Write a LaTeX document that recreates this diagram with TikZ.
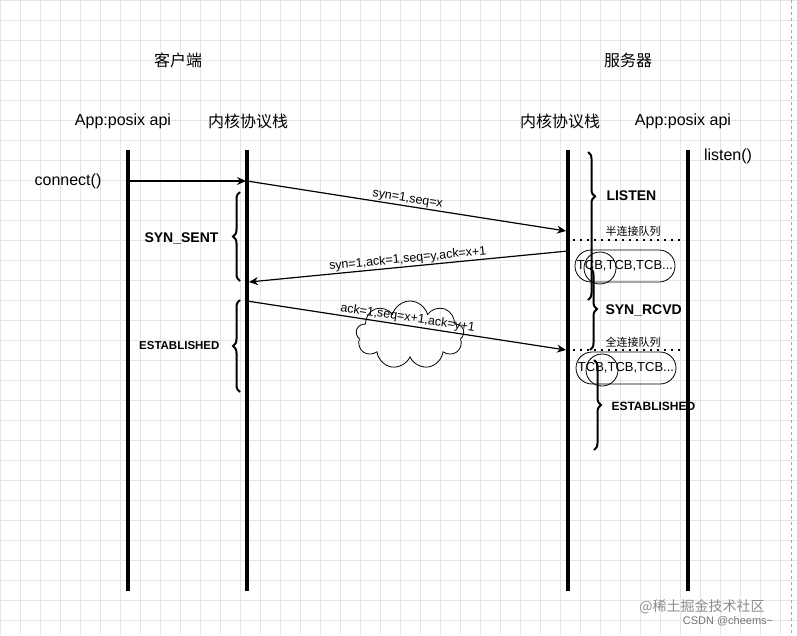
\documentclass[tikz,border=0pt]{standalone}
\usepackage{fontspec}
\setmainfont{Liberation Sans}
\newfontfamily\cjk{Noto Sans CJK SC}
\usetikzlibrary{decorations.pathreplacing,shapes.symbols,arrows.meta}
\begin{document}
\begin{tikzpicture}[x=1pt,y=-1pt,
  life/.style={line width=3.5pt},
  msg/.style={line width=1.2pt,-{Stealth[length=9pt,width=8pt]}},
  lbl/.style={font=\fontsize{12.5}{12.5}\selectfont,inner sep=1pt},
  head/.style={font=\fontsize{16}{16}\selectfont},
  st/.style={font=\bfseries\fontsize{14}{14}\selectfont},
  brc/.style={decorate,line width=2pt,decoration={brace,amplitude=7pt}},
  dots/.style={line width=1.5pt,dash pattern=on 2pt off 5pt},
  q/.style={draw,line width=0.8pt,rounded corners=16pt,minimum width=100pt,minimum height=32pt,font=\fontsize{13}{13}\selectfont,inner sep=0pt,text=black}]
\useasboundingbox (0,0) rectangle (797,635);
\fill[white] (0,0) rectangle (797,635);
\foreach \g in {0,20,...,780}{\draw[black!10,line width=0.6pt] (\g,0) -- (\g,635);}
\foreach \g in {0,20,...,620}{\draw[black!10,line width=0.6pt] (0,\g) -- (797,\g);}
\draw[black!35,dashed] (791,0) -- (791,635);
% headings
\node[font=\cjk\fontsize{16}{16}\selectfont] (c) at (178,60) {客户端};
\node[font=\cjk\fontsize{16}{16}\selectfont] (s) at (628,60) {服务器};
\node[head] (a1) at (123,121) {App:posix api};
\node[font=\cjk\fontsize{16}{16}\selectfont] (k1) at (248,121) {内核协议栈};
\node[font=\cjk\fontsize{16}{16}\selectfont] (k2) at (560,121) {内核协议栈};
\node[head] (a2) at (683,121) {App:posix api};
\node[head] (conn) at (68,181) {connect()};
\node[head] (lis) at (728,156) {listen()};
% lifelines
\foreach \n/\x in {A/128,B/247,C/568,D/688}{
  \coordinate (\n t) at (\x,150); \coordinate (\n b) at (\x,591);
  \draw[life] (\n t) -- (\n b);}
\coordinate (p1) at (128,181); \coordinate (p2) at (246,181);
\coordinate (p3) at (247,181); \coordinate (p4) at (566,231);
\coordinate (p5) at (568,251); \coordinate (p6) at (249,282);
\coordinate (p7) at (247,301); \coordinate (p8) at (566,350);
\node[cloud,draw,cloud puffs=9,aspect=1.7,minimum width=108pt,minimum height=68pt,line width=0.8pt] (cl) at (410,335) {};
\draw[msg] (p1) -- (p2);
\draw[msg] (p3) -- node[lbl,above,sloped] {syn=1,seq=x} (p4);
\draw[msg] (p5) -- node[lbl,above,sloped] {syn=1,ack=1,seq=y,ack=x+1} (p6);
\draw[msg] (p7) -- node[lbl,above,sloped,pos=0.5] {ack=1,seq=x+1,ack=y+1} (p8);
% client braces
\draw[brc] (240,281) -- (240,192);
\node[st,anchor=east] (ss) at (222,238) {SYN\_SENT};
\draw[brc] (240,392) -- (240,300);
\node[font=\bfseries\fontsize{11.5}{11.5}\selectfont,anchor=east] (es1) at (223,346) {ESTABLISHED};
% server
\draw[brc,decoration={brace,amplitude=7pt,aspect=0.3}] (588,152) -- (588,300);
\node[st,anchor=west] (ls) at (603,196) {LISTEN};
\node[font=\cjk\fontsize{11}{11}\selectfont,anchor=west] (hq) at (602,231) {半连接队列};
\draw[dots] (573,240) -- (682,240);
\node[q] (tq1) at (625,266) {TCB,TCB,TCB...};
\draw[line width=0.8pt] (600,268) circle (16);
\draw[brc,decoration={brace,amplitude=7pt,aspect=0.5}] (590,268) -- (590,350);
\node[st,anchor=west] (sr) at (602,310) {SYN\_RCVD};
\node[font=\cjk\fontsize{11}{11}\selectfont,anchor=west] (fq) at (602,342) {全连接队列};
\draw[dots] (573,350) -- (682,350);
\node[q] (tq2) at (626,368) {TCB,TCB,TCB...};
\draw[line width=0.8pt] (602,370) circle (16);
\draw[brc,decoration={brace,amplitude=7pt,aspect=0.5}] (594,360) -- (594,450);
\node[font=\bfseries\fontsize{12}{12}\selectfont,anchor=west] (es2) at (608,406) {ESTABLISHED};
% watermark
\node[font=\cjk\fontsize{14}{14}\selectfont,text=black!45] (w1) at (702,607) {@稀土掘金技术社区};
\node[font=\fontsize{11}{11}\selectfont,text=black!55] (w2) at (728,621) {CSDN @cheems\textasciitilde};
\end{tikzpicture}
\end{document}
